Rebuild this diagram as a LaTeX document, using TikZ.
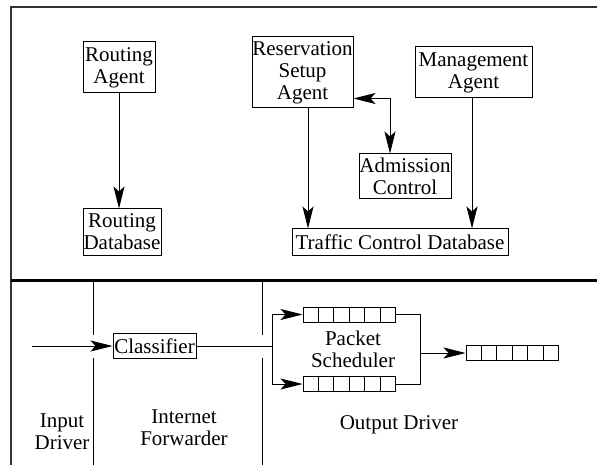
\documentclass[tikz,border=0pt]{standalone}
\usepackage{fontspec}
\setmainfont{Liberation Serif}
\usetikzlibrary{arrows.meta,calc}
\tikzset{
  txt/.style={font=\fontsize{21}{22}\selectfont, align=center, inner sep=0pt},
  box/.style={txt, draw, line width=1pt},
  queue/.style={draw, line width=1pt, minimum width=92pt, minimum height=15pt, inner sep=0pt},
  wire/.style={line width=1pt},
  arr/.style={wire, -{Stealth[length=22pt,width=11pt,inset=5pt]}},
  dbl/.style={wire, {Stealth[length=22pt,width=11pt,inset=5pt]}-{Stealth[length=22pt,width=11pt,inset=5pt]}},
  frame/.style={line width=1.3pt, black!80},
}
\begin{document}
\begin{tikzpicture}[x=1pt,y=-1pt]
\useasboundingbox (0,0) rectangle (597,465);

% outer frame and the divider between control and data path
\draw[frame] (11,465) -- (11,7) -- (597,7);
\draw[line width=3pt] (11,280) -- (597,280);

% control plane
\node[box, minimum width=72pt, minimum height=51pt] (ra) at (119,67.5) {Routing\\Agent};
\node[box, minimum width=78pt, minimum height=46pt] (rd) at (122,232) {Routing\\Database};
\node[box, minimum width=101pt, minimum height=71pt] (rsa) at (302.5,72.5) {Reservation\\Setup\\Agent};
\node[box, minimum width=117pt, minimum height=51pt] (ma) at (473.5,72.5) {Management\\Agent};
\node[box, minimum width=92pt, minimum height=45pt] (ac) at (405,176.5) {Admission\\Control};
\node[box, minimum width=216pt, minimum height=26pt] (tcd) at (400,242) {Traffic Control Database};

\draw[arr] (ra.south) -- (ra.south |- rd.north);
\draw[arr] ([xshift=5.5pt]rsa.south) -- ([xshift=5.5pt]rsa.south |- tcd.north);
\draw[arr] ([xshift=-1.5pt]ma.south) -- ([xshift=-1.5pt]ma.south |- tcd.north);
\draw[dbl] ([yshift=10pt]rsa.south east) -| ([xshift=-15pt]ac.north);

% data path: section boundaries, broken where the packet flow crosses
\coordinate (b1t) at (93,280);  \coordinate (b1m) at (93,335);
\coordinate (b1n) at (93,358);  \coordinate (b1b) at (93,465);
\coordinate (b2t) at (262,280); \coordinate (b2m) at (262,335);
\coordinate (b2n) at (262,358); \coordinate (b2b) at (262,465);
\draw[wire] (b1t) -- (b1m) (b1n) -- (b1b);
\draw[wire] (b2t) -- (b2m) (b2n) -- (b2b);

\node[box, minimum width=83pt, minimum height=25pt] (cls) at (154.5,346) {Classifier};
\coordinate (in) at (32,346);
\coordinate (sp) at (272,346);
\draw[arr] (in) -- (cls.west);
\draw[wire] (cls.east) -- (sp);

% packet queues
\node[queue] (qa) at (349,314.5) {};
\node[queue] (qb) at (349,384) {};
\node[queue] (qc) at (512,353) {};
\foreach \q in {qa,qb,qc}
  \foreach \i in {1,...,5}
    \draw[wire] ($(\q.north west)!\i/6!(\q.north east)$) -- ($(\q.south west)!\i/6!(\q.south east)$);

\draw[arr] (sp) |- (qa.west);
\draw[arr] (sp) |- (qb.west);
\coordinate (jt) at (420,314.5);
\coordinate (jb) at (420,384);
\coordinate (jm) at (420,353);
\draw[wire] (qa.east) -- (jt) -- (jb) -- (qb.east);
\draw[arr] (jm) -- (qc.west);

\node[txt] (ps) at (353,349) {Packet\\Scheduler};
\node[txt] (od) at (399,425) {Output Driver};
\node[txt] (id) at (62,432) {Input\\Driver};
\node[txt] (ifw) at (184,428) {Internet\\Forwarder};
\end{tikzpicture}
\end{document}
